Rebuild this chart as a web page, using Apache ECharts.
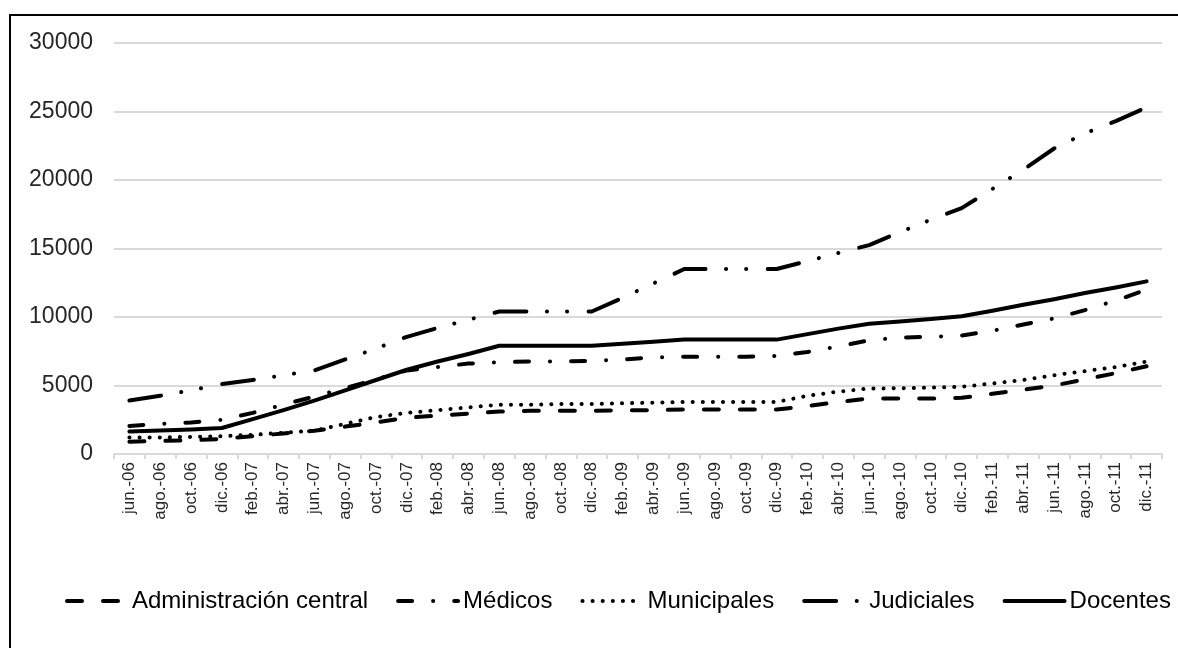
<!DOCTYPE html>
<html>
<head>
<meta charset="utf-8">
<script src="https://cdn.jsdelivr.net/npm/echarts@6/dist/echarts.min.js"></script>
<style>
  html, body { margin: 0; padding: 0; background: #fff; }
  #wrap { position: relative; width: 1178px; height: 648px; overflow: hidden; }
  #frame { position: absolute; left: 9px; top: 14px; width: 1300px; height: 800px; border: 2px solid #000; box-sizing: border-box; }
  #chart { position: absolute; left: 0; top: 0; width: 1178px; height: 648px; }
</style>
</head>
<body>
<div id="wrap">
  <div id="frame"></div>
  <div id="chart"></div>
</div>
<script>
// categorías (bimestral)
const categories = [
  'jun.-06', 'ago.-06', 'oct.-06', 'dic.-06', 'feb.-07', 'abr.-07', 'jun.-07', 'ago.-07', 'oct.-07', 'dic.-07',
  'feb.-08', 'abr.-08', 'jun.-08', 'ago.-08', 'oct.-08', 'dic.-08', 'feb.-09', 'abr.-09', 'jun.-09', 'ago.-09',
  'oct.-09', 'dic.-09', 'feb.-10', 'abr.-10', 'jun.-10', 'ago.-10', 'oct.-10', 'dic.-10', 'feb.-11', 'abr.-11',
  'jun.-11', 'ago.-11', 'oct.-11', 'dic.-11'
];

const administracion = [
  900, 950, 1000, 1100, 1300, 1500, 1700, 2000, 2300, 2650,
  2800, 2950, 3100, 3150, 3150, 3150, 3200, 3200, 3250, 3250,
  3250, 3250, 3500, 3800, 4050, 4050, 4050, 4100, 4400, 4700,
  5000, 5450, 5900, 6400
];
const medicos = [
  2050, 2200, 2300, 2500, 3000, 3600, 4200, 4800, 5450, 6100,
  6350, 6600, 6700, 6750, 6750, 6800, 6900, 7050, 7100, 7100,
  7100, 7150, 7450, 7850, 8300, 8500, 8550, 8650, 9000, 9450,
  9900, 10500, 11200, 12000
];
const municipales = [
  1200, 1200, 1250, 1300, 1400, 1550, 1700, 2200, 2700, 3000,
  3200, 3400, 3600, 3600, 3650, 3650, 3700, 3750, 3800, 3800,
  3800, 3800, 4250, 4550, 4780, 4800, 4850, 4900, 5150, 5400,
  5750, 6050, 6350, 6750
];
const judiciales = [
  3900, 4250, 4650, 5100, 5400, 5750, 6100, 6900, 7700, 8550,
  9200, 9800, 10400, 10400, 10400, 10400, 11400, 12450, 13500, 13500,
  13500, 13500, 14080, 14670, 15250, 16200, 17100, 17950, 19350, 20750,
  22300, 23400, 24300, 25300
];
const docentes = [
  1650, 1720, 1790, 1900, 2550, 3200, 3900, 4650, 5400, 6150,
  6750, 7300, 7900, 7900, 7900, 7900, 8050, 8200, 8350, 8350,
  8350, 8350, 8750, 9150, 9500, 9680, 9850, 10050, 10450, 10900,
  11300, 11750, 12150, 12600
];

const yTicks = [0, 5000, 10000, 15000, 20000, 25000, 30000];

const FONT = '"Liberation Sans", Arial, sans-serif';

function mkSeries(name, data, dash) {
  return {
    name: name,
    type: 'line',
    data: data,
    symbol: 'none',
    showSymbol: false,
    itemStyle: { color: '#000' },
    lineStyle: {
      color: '#000',
      width: 4,
      type: dash,
      cap: 'round',
      join: 'round'
    }
  };
}

const chart = echarts.init(document.getElementById('chart'), null, { renderer: 'canvas' });

chart.setOption({
  animation: false,
  grid: { left: 114, right: 16, top: 43, bottom: 194, containLabel: false },
  legend: {
    bottom: 30,
    left: 60,
    itemWidth: 60,
    itemHeight: 14,
    itemGap: 28,
    itemStyle: { opacity: 0 },
    lineStyle: { width: 4, cap: 'round' },
    textStyle: { fontFamily: FONT, fontSize: 24, color: '#000' },
    data: ['Administración central', 'Médicos', 'Municipales', 'Judiciales', 'Docentes']
  },
  xAxis: {
    type: 'category',
    data: categories,
    boundaryGap: true,
    axisLine: { show: true, lineStyle: { color: '#d9d9d9', width: 2 } },
    axisTick: { show: true, length: 5, lineStyle: { color: '#d9d9d9', width: 2 } },
    axisLabel: {
      interval: 0,
      rotate: 90,
      margin: 8,
      fontFamily: FONT,
      fontSize: 17,
      color: '#262626'
    },
    splitLine: { show: false }
  },
  yAxis: {
    type: 'value',
    min: yTicks[0],
    max: yTicks[yTicks.length - 1],
    interval: 5000,
    axisLine: { show: false },
    axisTick: { show: false },
    axisLabel: {
      margin: 21,
      fontFamily: FONT,
      fontSize: 23,
      color: '#262626',
      formatter: function (v) { return String(v); }
    },
    splitLine: { show: true, lineStyle: { color: '#d9d9d9', width: 2 } }
  },
  series: [
    mkSeries('Administración central', administracion, [15, 21]),
    mkSeries('Médicos', medicos, [14, 21, 0.1, 21]),
    mkSeries('Municipales', municipales, [0.1, 10]),
    mkSeries('Judiciales', judiciales, [32, 20.5, 0.1, 20, 0.1, 21.5]),
    mkSeries('Docentes', docentes, 'solid')
  ]
});

window.addEventListener('resize', () => {
  chart.resize();
});
</script>
</body>
</html>
